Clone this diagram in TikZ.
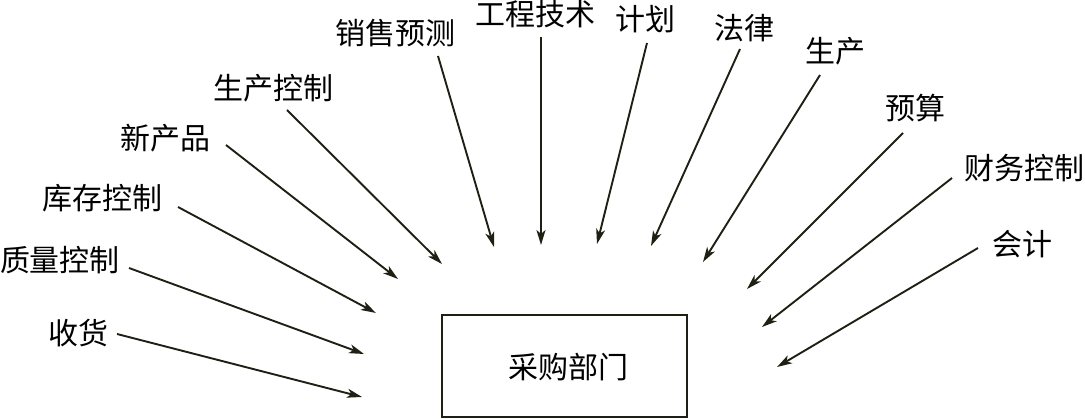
\documentclass[tikz,border=0pt]{standalone}
\usepackage{fontspec}
\setmainfont{Noto Sans CJK SC}
\usetikzlibrary{arrows.meta}
\definecolor{ink}{HTML}{1F1F14}
\tikzset{
  lbl/.style={inner sep=0pt, font=\fontsize{30}{32}\selectfont, text=black},
  arr/.style={draw=ink, line width=1.9pt, -{Stealth[length=15pt,width=9pt,inset=4pt]}},
  dept/.style={draw=ink, line width=1.6pt, minimum width=245pt, minimum height=102pt, inner sep=0pt}
}
\begin{document}
\begin{tikzpicture}[x=1pt,y=-1pt]
\useasboundingbox (0,0) rectangle (1085,419);
\node[dept] (box) at (564.5,366) {};
\node[lbl] (boxt) at (568,367) {采购部门};

\node[lbl] (l1) at (78,333) {收货};
\node[lbl] (l2) at (60,260) {质量控制};
\node[lbl] (l3) at (102,198) {库存控制};
\node[lbl] (l4) at (165,138) {新产品};
\node[lbl] (l5) at (273,88) {生产控制};
\node[lbl] (l6) at (395,33) {销售预测};
\node[lbl] (l7) at (535,14) {工程技术};
\node[lbl] (l8) at (645,19) {计划};
\node[lbl] (l9) at (744,28) {法律};
\node[lbl] (l10) at (835,51) {生产};
\node[lbl] (l11) at (915,108) {预算};
\node[lbl] (l12) at (1024,168) {财务控制};
\node[lbl] (l13) at (1022,244) {会计};

\coordinate (s1) at (117,334);  \coordinate (e1) at (362,397);
\coordinate (s2) at (129,268);  \coordinate (e2) at (364,354);
\coordinate (s3) at (178,207);  \coordinate (e3) at (376,313);
\coordinate (s4) at (226,145);  \coordinate (e4) at (398,279);
\coordinate (s5) at (287,110);  \coordinate (e5) at (442,264);
\coordinate (s6) at (438,56);   \coordinate (e6) at (494,247);
\coordinate (s7) at (541,37);   \coordinate (e7) at (541,245);
\coordinate (s8) at (647,43);   \coordinate (e8) at (597,244);
\coordinate (s9) at (740,49);   \coordinate (e9) at (651,246);
\coordinate (s10) at (820,75);  \coordinate (e10) at (703,262);
\coordinate (s11) at (903,133); \coordinate (e11) at (747,289);
\coordinate (s12) at (952,178); \coordinate (e12) at (762,327);
\coordinate (s13) at (978,248); \coordinate (e13) at (777,367);

\foreach \i in {1,...,13} \draw[arr] (s\i) -- (e\i);
\end{tikzpicture}
\end{document}
